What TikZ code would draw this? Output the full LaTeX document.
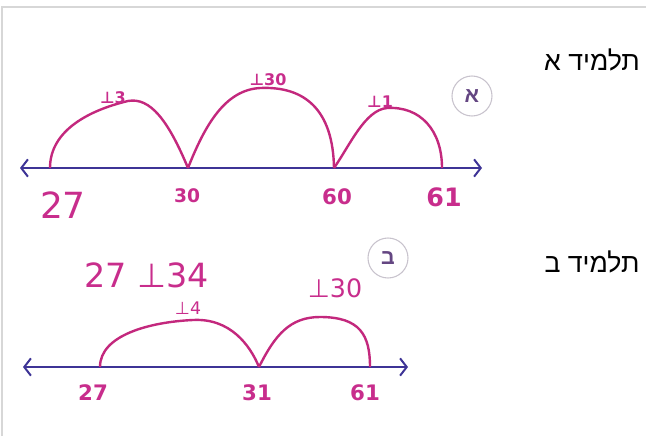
\documentclass[tikz,border=0pt]{standalone}
\usepackage{fontspec}
\usetikzlibrary{arrows.meta}
\TeXXeTstate=1
\newfontfamily\hebfont[Script=Hebrew]{Liberation Sans}
\newfontfamily\handfont{DejaVu Sans}
\definecolor{lineblue}{RGB}{62,52,150}
\definecolor{arcpink}{RGB}{195,40,125}
\definecolor{numpink}{RGB}{200,45,140}
\definecolor{ringgray}{RGB}{200,195,205}
\definecolor{letterpurple}{RGB}{100,70,130}
\definecolor{framegray}{RGB}{215,215,215}
\tikzset{
  numline/.style={draw=lineblue, line width=1.5pt,
    {Straight Barb[length=5pt,width=13pt]}-{Straight Barb[length=5pt,width=13pt]}},
  jump/.style={draw=arcpink, line width=1.8pt},
  handnum/.style={text=numpink, font=\handfont\bfseries, inner sep=0pt},
  stud/.style={font=\hebfont\fontsize{20}{24}\selectfont, text=black},
  ring/.style={circle, draw=ringgray, line width=0.8pt, minimum size=30pt,
    inner sep=0pt, text=letterpurple, font=\hebfont\bfseries\fontsize{16}{18}\selectfont}
}
\begin{document}
\begin{tikzpicture}[x=0.75pt, y=-0.75pt]

% Frame
\useasboundingbox (0,0) rectangle (646,436);
\draw[framegray, line width=0.8pt] (2,436) -- (2,7) -- (646,7);

% Student A
\node[stud] (studA) at (592,60) {\hebfont\beginR תלמיד א\endR};
\node[ring] (ringA) at (472,96) {\beginR א\endR};

\coordinate (lA) at (20,168);
\coordinate (rA) at (482,168);
\coordinate (t27) at (50,168);
\coordinate (t30) at (188,168);
\coordinate (t60) at (334,168);
\coordinate (t61) at (442,168);
\draw[numline] (lA) -- (rA);

% Jumps
\draw[jump] (t27) .. controls (50,130) and (90,110) .. (128,101)
  .. controls (150,97) and (168,120) .. (t30);
\draw[jump] (t30) .. controls (205,125) and (225,90) .. (260,88)
  .. controls (305,86) and (333,110) .. (t60);
\draw[jump] (t60) .. controls (350,145) and (365,110) .. (387,108)
  .. controls (420,106) and (442,130) .. (t61);

\node[handnum, font=\handfont\bfseries\fontsize{12}{13}\selectfont] (j3) at (113,98) {⊥3};
\node[handnum, font=\handfont\bfseries\fontsize{12}{13}\selectfont] (j30) at (268,80) {⊥30};
\node[handnum, font=\handfont\bfseries\fontsize{12}{13}\selectfont] (j1) at (380,102) {⊥1};

% Numbers under the line
\node[handnum, font=\handfont\fontsize{27}{28}\selectfont] (n27) at (63,205) {27};
\node[handnum, font=\handfont\bfseries\fontsize{14}{16}\selectfont] (n30) at (187,196) {30};
\node[handnum, font=\handfont\bfseries\fontsize{16}{18}\selectfont] (n60) at (337,197) {60};
\node[handnum, font=\handfont\bfseries\fontsize{19}{20}\selectfont] (n61) at (444,197) {61};

% Student B
\node[stud] (studB) at (592,262) {\hebfont\beginR תלמיד ב\endR};
\node[ring] (ringB) at (388,258) {\beginR ב\endR};

\node[handnum, font=\handfont\fontsize{25}{26}\selectfont] (sum) at (147,275) {27 ⊥34};
\node[handnum, font=\handfont\fontsize{13}{14}\selectfont] (j4) at (188,308) {⊥4};
\node[handnum, font=\handfont\fontsize{19}{20}\selectfont] (jb30) at (335,288) {⊥30};

\coordinate (lB) at (23,367);
\coordinate (rB) at (408,367);
\coordinate (b27) at (100,367);
\coordinate (b31) at (259,367);
\coordinate (b61) at (370,367);
\draw[numline] (lB) -- (rB);

\draw[jump] (b27) .. controls (100,335) and (150,322) .. (193,320)
  .. controls (230,318) and (250,345) .. (b31);
\draw[jump] (b31) .. controls (275,335) and (290,317) .. (320,317)
  .. controls (360,317) and (370,335) .. (b61);

\node[handnum, font=\handfont\bfseries\fontsize{16}{18}\selectfont] (m27) at (93,393) {27};
\node[handnum, font=\handfont\bfseries\fontsize{16}{18}\selectfont] (m31) at (257,393) {31};
\node[handnum, font=\handfont\bfseries\fontsize{16}{18}\selectfont] (m61) at (365,393) {61};

\end{tikzpicture}
\end{document}
